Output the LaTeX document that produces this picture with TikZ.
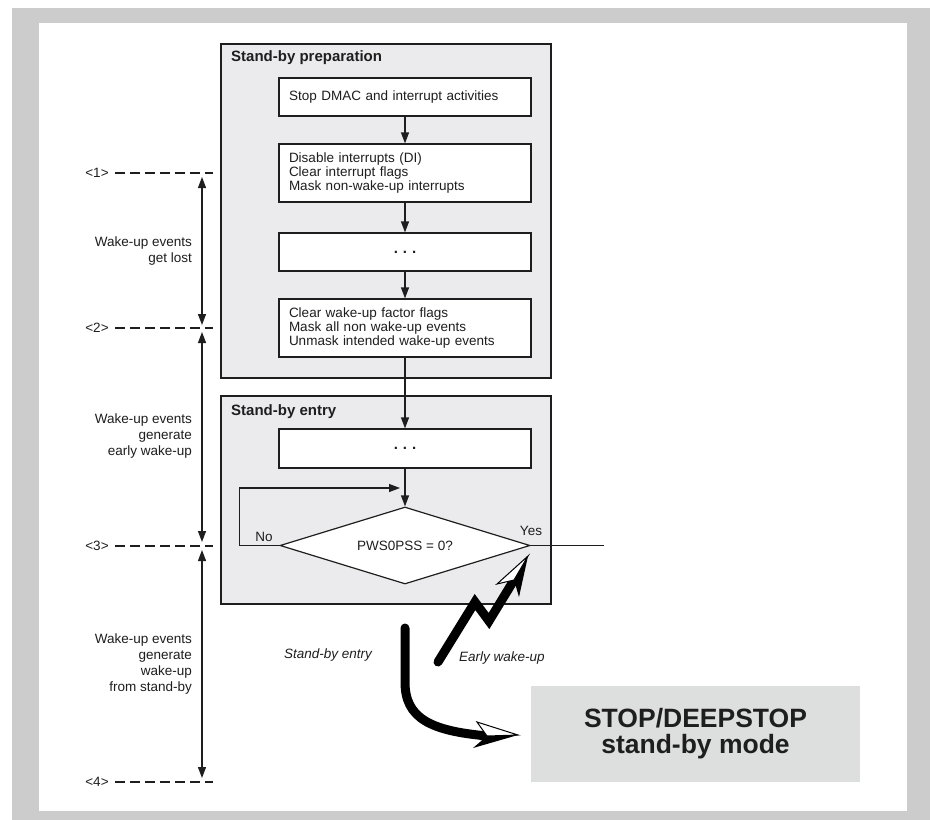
\documentclass[tikz,border=0pt]{standalone}
\usepackage{fontspec}
\setmainfont{Liberation Sans}
\usetikzlibrary{shapes.geometric,arrows.meta}
\definecolor{framegray}{HTML}{CCCCCC}
\definecolor{panelgray}{HTML}{EBEBED}
\definecolor{stopgray}{HTML}{DDDFDE}
\definecolor{txt}{HTML}{1E1E1E}
\definecolor{edge}{HTML}{1E1E1E}
\tikzset{
  panel/.style={draw=edge, line width=1.4pt, fill=panelgray, inner sep=0pt},
  paneltitle/.style={anchor=west, inner sep=0pt, text=txt, font=\bfseries\fontsize{15}{17}\selectfont},
  flowbox/.style={draw=edge, line width=1.2pt, fill=white, text width=232pt, inner xsep=10pt, inner ysep=0pt, align=left, text=txt, font=\fontsize{13.5}{14}\selectfont},
  dotbox/.style={flowbox, align=center, font=\bfseries\fontsize{15}{14}\selectfont},
  decision/.style={diamond, draw=edge, line width=1.2pt, fill=white, inner sep=0pt, minimum width=250pt, minimum height=77pt, aspect=3.25, text=txt, font=\fontsize{13.5}{14}\selectfont},
  flowarrow/.style={draw=edge, line width=1.2pt, -{Triangle[length=11pt,width=8pt]}},
  flowline/.style={draw=edge, line width=1.2pt},
  sidelabel/.style={anchor=east, inner sep=0pt, align=right, text=txt, font=\fontsize{13.5}{16}\selectfont},
  marklabel/.style={inner sep=0pt, text=txt, font=\fontsize{13.5}{16}\selectfont},
  markline/.style={draw=edge, line width=1.2pt, dash pattern=on 10pt off 5pt},
  spanarrow/.style={draw=edge, line width=1.2pt, {Triangle[length=11pt,width=8pt]}-{Triangle[length=11pt,width=8pt]}},
  ital/.style={inner sep=0pt, text=txt, font=\itshape\fontsize{13.5}{16}\selectfont},
  smalllabel/.style={inner sep=0pt, text=txt, font=\fontsize{13.5}{16}\selectfont},
  bigarrow/.style={draw=black, line width=9pt},
  stopbox/.style={fill=stopgray, minimum width=329pt, minimum height=96pt, inner sep=0pt, align=center, text=txt, font=\bfseries\fontsize{26.5}{26}\selectfont}
}
\begin{document}
\begin{tikzpicture}[x=1pt,y=-1pt]
\useasboundingbox (0,0) rectangle (930,820);
% frame
\fill[framegray] (12,8) rectangle (930,820);
\fill[white] (39,23) rectangle (907,811);

% panels
\node[panel, minimum width=330pt, minimum height=334pt] (p1) at (386,211) {};
\node[panel, minimum width=330pt, minimum height=208pt] (p2) at (386,500) {};
\node[paneltitle] (t1) at (231,58) {Stand-by preparation};
\node[paneltitle] (t2) at (231,412) {Stand-by entry};

% flow boxes
\node[flowbox, minimum height=38pt] (b1) at (405,97) {Stop DMAC and interrupt activities};
\node[flowbox, minimum height=58pt] (b2) at (405,173) {Disable interrupts (DI)\\Clear interrupt flags\\Mask non-wake-up interrupts};
\node[dotbox, minimum height=38pt] (b3) at (405,252) {.\,\,.\,\,.};
\node[flowbox, minimum height=58pt] (b4) at (405,328) {Clear wake-up factor flags\\Mask all non wake-up events\\Unmask intended wake-up events};
\node[dotbox, minimum height=39pt] (b5) at (405,448.5) {.\,\,.\,\,.};
\node[decision] (dec) at (405,545.5) {PWS0PSS = 0?};

\draw[flowarrow] (b1) -- (b2);
\draw[flowarrow] (b2) -- (b3);
\draw[flowarrow] (b3) -- (b4);
\draw[flowarrow] (b4) -- (b5);
\draw[flowarrow] (b5) -- (dec);

\coordinate (loopend) at (400,488);
\draw[flowarrow] (dec.west) -- ++(-40,0) |- (loopend);
\coordinate (yesend) at (604,545.5);
\draw[flowline] (dec.east) -- (yesend);
\node[smalllabel] (no) at (264,537) {No};
\node[smalllabel] (yes) at (531,531) {Yes};

% left markers
\foreach \i/\y in {1/173,2/328,3/546,4/782}{
  \node[marklabel] (m\i) at (97,\y) {<\i>};
  \coordinate (ds\i) at (115,\y);
  \coordinate (de\i) at (213,\y);
  \draw[markline] (ds\i) -- (de\i);
}
\coordinate (a1s) at (202,177);
\coordinate (a1e) at (202,325);
\coordinate (a2s) at (202,332);
\coordinate (a2e) at (202,542);
\coordinate (a3s) at (202,550);
\coordinate (a3e) at (202,778);
\draw[spanarrow] (a1s) -- (a1e);
\draw[spanarrow] (a2s) -- (a2e);
\draw[spanarrow] (a3s) -- (a3e);

\node[sidelabel] (l1) at (192,251) {Wake-up events\\get lost};
\node[sidelabel] (l2) at (192,436) {Wake-up events\\generate\\early wake-up};
\node[sidelabel] (l3) at (192,664) {Wake-up events\\generate\\wake-up\\from stand-by};

% stop box
\node[stopbox] (stop) at (695.5,734) {STOP/DEEPSTOP\\stand-by mode};

% stand-by entry thick arrow
\coordinate (se0) at (405,628);
\coordinate (senotch) at (487,736);
\coordinate (setip) at (518,735);
\coordinate (seub) at (477,722);
\coordinate (selb) at (473,748);
\draw[bigarrow, line cap=round] (se0) -- (405,682) .. controls (405,718) and (430,731) .. (488,736);
\draw[bigarrow, line cap=butt] (480,735.5) -- (senotch);
\fill[black] (setip) -- (senotch) -- (selb) -- cycle;
\filldraw[fill=white, draw=black, line width=1pt, line join=miter] (setip) -- (seub) -- (senotch) -- cycle;
\node[ital] (sel) at (328,655) {Stand-by entry};

% early wake-up zigzag arrow
\coordinate (ew0) at (438,662);
\coordinate (ew1) at (475,602);
\coordinate (ew2) at (489,621);
\coordinate (ewnotch) at (514,580);
\coordinate (ewtip) at (528,556);
\coordinate (ewlb) at (497,584);
\coordinate (ewrb) at (519,597);
\draw[bigarrow, line cap=round, line join=miter] (ew0) -- (ew1) -- (ew2) -- (ewnotch);
\fill[black] (ewtip) -- (ewnotch) -- (ewrb) -- cycle;
\filldraw[fill=white, draw=black, line width=1pt, line join=miter] (ewtip) -- (ewlb) -- (ewnotch) -- cycle;
\node[ital] (ewl) at (502,658) {Early wake-up};
\end{tikzpicture}
\end{document}
